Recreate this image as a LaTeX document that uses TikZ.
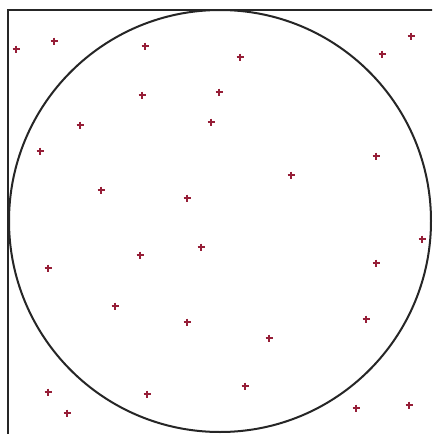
\documentclass[tikz,border=0pt]{standalone}
\usetikzlibrary{calc}
\definecolor{dotred}{RGB}{150,30,55}
\tikzset{plusmark/.style={dotred,line width=1.6pt}}
\begin{document}
\begin{tikzpicture}[x=1pt,y=-1pt]
\useasboundingbox (0,0) rectangle (432,434);
\clip (0,0) rectangle (432,434);
\fill[white] (0,0) rectangle (432,434);
% square and inscribed circle
\draw[line width=2pt,black!85] (8,10) rectangle (440,442);
\draw[line width=2pt,black!85] (220,221) circle (211);
% random sample points
\foreach \x/\y in {16/49,54/41,145/46,240/57,411/36,382/54,142/95,219/92,80/125,211/122,
  40/151,376/156,291/175,101/190,187/198,422/239,140/255,201/247,48/268,376/263,
  115/306,187/322,366/319,269/338,48/392,147/394,245/386,67/413,356/408,409/405} {
  \draw[plusmark] (\x-3.5,\y)--(\x+3.5,\y) (\x,\y-3.5)--(\x,\y+3.5);
}
\end{tikzpicture}
\end{document}
